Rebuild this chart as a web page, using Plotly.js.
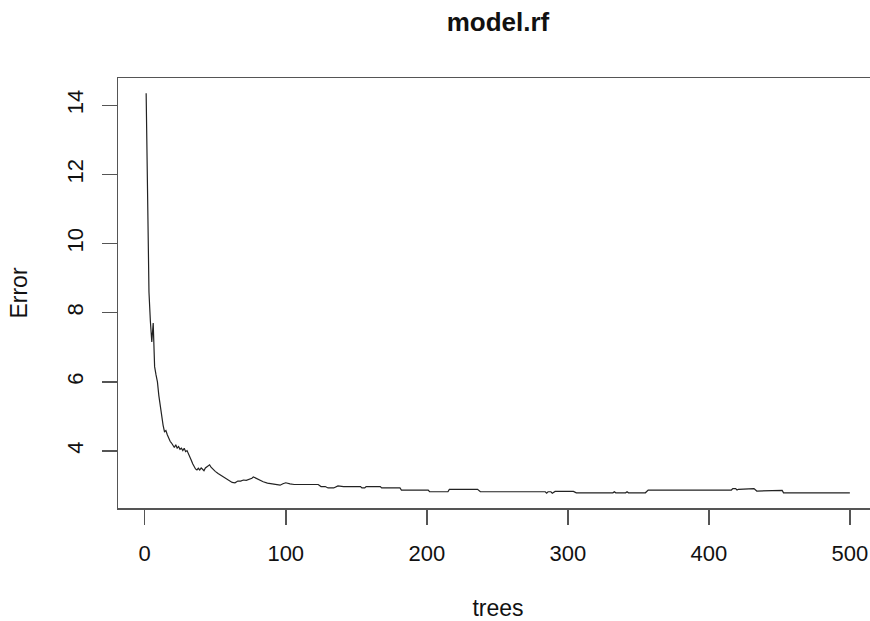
<!DOCTYPE html>
<html>
<head>
<meta charset="utf-8">
<script src="https://cdn.plot.ly/plotly-3.0.1.min.js"></script>
<style>
html,body{margin:0;padding:0;background:#fff;overflow:hidden;}
#chart{width:882px;height:621px;}
</style>
</head>
<body>
<div id="chart"></div>
<script>
const chartTitle = "model.rf";
const xLabel = "trees";
const yLabel = "Error";
const xTicks = [0, 100, 200, 300, 400, 500];
const yTicks = [4, 6, 8, 10, 12, 14];

const trees = [1,2,3,4,5,6,7,8,9,10,11,12,13,14,15,16,17,18,19,20,
  21,22,23,24,25,26,27,28,29,30,31,32,33,34,35,36,37,38,39,40,
  41,42,43,44,45,46,47,48,49,50,52,54,56,58,60,62,64,66,68,70,
  72,74,76,77,79,81,84,87,90,93,96,98,100,103,106,110,123,125,128,130,
  134,137,141,153,154,156,157,167,168,181,182,201,202,215,216,236,238,284,285,286,
  288,289,290,291,304,306,332,333,334,341,342,343,355,357,416,417,419,420,421,426,
  427,432,434,447,449,450,451,452,453,500];

const err = [14.35,11.0,8.6,7.75,7.15,7.7,6.44,6.2,6.0,5.6,5.28,4.99,4.75,4.56,4.59,4.47,4.37,4.28,4.23,4.18,
  4.1,4.18,4.08,4.13,4.05,4.08,4.01,4.08,3.98,4.01,3.93,3.85,3.73,3.63,3.55,3.48,3.45,3.5,3.45,3.51,
  3.47,3.43,3.51,3.55,3.58,3.6,3.53,3.48,3.43,3.41,3.35,3.3,3.25,3.18,3.13,3.09,3.08,3.13,3.13,3.16,
  3.15,3.18,3.21,3.25,3.21,3.15,3.11,3.07,3.05,3.03,3.01,3.05,3.08,3.05,3.03,3.03,3.03,2.97,2.97,2.93,
  2.93,2.99,2.97,2.97,2.93,2.93,2.97,2.97,2.93,2.93,2.87,2.87,2.82,2.82,2.89,2.89,2.82,2.82,2.78,2.82,
  2.82,2.78,2.82,2.83,2.83,2.79,2.79,2.82,2.79,2.79,2.82,2.79,2.79,2.87,2.87,2.91,2.91,2.87,2.89,2.89,
  2.91,2.91,2.84,2.84,2.86,2.84,2.84,2.86,2.79,2.79];

const FONT = "Liberation Sans, Arial, Helvetica, sans-serif";
const AX = "#555555";

const trace = {
  x: trees, y: err, type: "scatter", mode: "lines",
  line: {color: "#222222", width: 1.2},
  hoverinfo: "x+y", showlegend: false
};

const layout = {
  width: 882, height: 621,
  margin: {l: 118, r: 2, t: 78, b: 113},
  paper_bgcolor: "#ffffff", plot_bgcolor: "#ffffff",
  font: {family: FONT, color: "#111111"},
  title: {
    text: "<b>" + chartTitle + "</b>",
    font: {family: FONT, size: 26, color: "#111111"},
    x: 0.5, xref: "paper", xanchor: "center",
    y: 1 - 22/621, yref: "container", yanchor: "middle"
  },
  xaxis: {
    range: [-18.96, 519.96], tickvals: xTicks, ticktext: xTicks.map(String),
    ticks: "outside", ticklen: 15, tickwidth: 1.5, tickcolor: AX,
    showline: true, linecolor: AX, linewidth: 1.5, mirror: true,
    showgrid: false, zeroline: false, automargin: false,
    tickfont: {family: FONT, size: 22, color: "#111111"},
    ticklabelstandoff: 10,
    title: {text: xLabel, font: {family: FONT, size: 23, color: "#111111"}, standoff: 38}
  },
  yaxis: {
    range: [2.35, 14.79], tickvals: yTicks, ticktext: yTicks.map(String),
    ticks: "outside", ticklen: 15, tickwidth: 1.5, tickcolor: AX, tickangle: -90,
    showline: true, linecolor: AX, linewidth: 1.5, mirror: true,
    showgrid: false, zeroline: false, automargin: true,
    tickfont: {family: FONT, size: 22, color: "#111111"},
    ticklabelstandoff: 10,
    title: {text: yLabel, font: {family: FONT, size: 23, color: "#111111"}, standoff: 28}
  }
};

Plotly.newPlot("chart", [trace], layout, {displayModeBar: false, staticPlot: true});
</script>
</body>
</html>
